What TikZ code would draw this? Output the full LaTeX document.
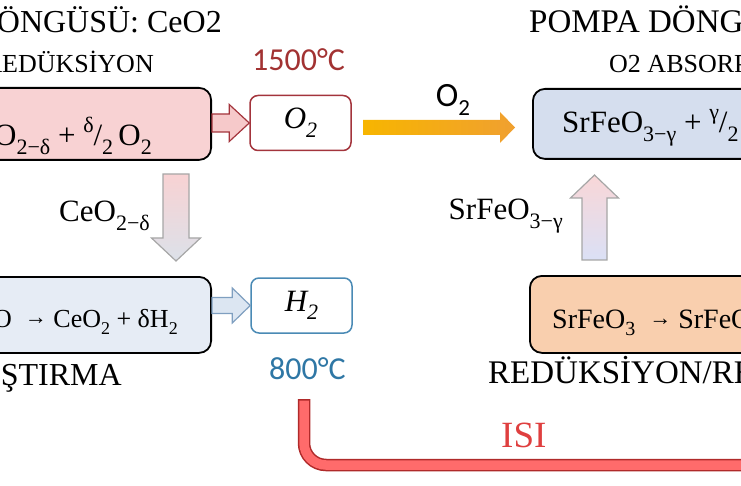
\documentclass[tikz,border=0pt]{standalone}
\usepackage{fontspec}
\setmainfont{Liberation Serif}
\newfontfamily\calib{Carlito}
\usetikzlibrary{calc}
\definecolor{pinkfill}{HTML}{F8D2D3}
\definecolor{darkred}{HTML}{A3343C}
\definecolor{arrpink}{HTML}{F6C9CA}
\definecolor{bluefill}{HTML}{E6ECF5}
\definecolor{steel}{HTML}{4A8AB5}
\definecolor{arrblue}{HTML}{DCE6F2}
\definecolor{arrblueb}{HTML}{7F9FC0}
\definecolor{absfill}{HTML}{D5DEEE}
\definecolor{peach}{HTML}{F9CFAE}
\definecolor{pipefill}{HTML}{FF6B6B}
\definecolor{pipeedge}{HTML}{B02A2A}
\definecolor{isired}{HTML}{DF3F3F}
\definecolor{hotred}{HTML}{A23232}
\definecolor{coolblue}{HTML}{2F77A5}
\definecolor{orA}{HTML}{F7B500}
\definecolor{orB}{HTML}{F0A030}
\def\mysubsize{22}
\newcommand\mysub[1]{\raisebox{-0.28em}{\fontsize{\mysubsize}{\mysubsize}\selectfont #1}}
\newcommand\mysup[1]{\raisebox{0.42em}{\fontsize{\mysubsize}{\mysubsize}\selectfont #1}}
\newcommand\myarr{\raisebox{3pt}{\fontsize{22}{24}\selectfont →}}
\newcommand\myblockarrow[6]{%
  \coordinate (hb) at ($(#3)!#6!(#2)$);
  \path[#1] ($(#2)!#4!90:(#3)$) -- ($(hb)!#4!90:(#3)$) -- ($(hb)!#5!90:(#3)$)
    -- (#3) -- ($(hb)!#5!-90:(#3)$) -- ($(hb)!#4!-90:(#3)$) -- ($(#2)!#4!-90:(#3)$) -- cycle;}
\begin{document}
\begin{tikzpicture}[x=1pt,y=-1pt,
  bigbox/.style={draw=black, line width=1.8pt, rounded corners=12pt, inner sep=0},
  smallbox/.style={fill=white, line width=1.5pt, rounded corners=8pt, inner sep=0, minimum width=101pt, minimum height=55pt, font=\itshape\def\mysubsize{22}\fontsize{31}{36}\selectfont},
  ttl/.style={inner sep=0, font=\fontsize{33}{38}\selectfont},
  subttl/.style={inner sep=0, font=\fontsize{26}{31}\selectfont},
  temp/.style={inner sep=0, font=\calib\fontsize{32}{36}\selectfont},
  frm/.style={inner sep=0, font=\def\mysubsize{22}\fontsize{31}{34}\selectfont},
  frmsmall/.style={inner sep=0, font=\def\mysubsize{18}\fontsize{26}{30}\selectfont},
  frmmid/.style={inner sep=0, font=\def\mysubsize{20}\fontsize{28}{32}\selectfont}]
\useasboundingbox (0,0) rectangle (741,486);
\clip (0,0) rectangle (741,486);
% boxes
\node[bigbox, fill=pinkfill, minimum width=330pt, minimum height=72pt, anchor=north east] (redbox) at (212,87) {};
\node[smallbox, draw=darkred] (o2box) at (300.5,123) {O\mysub{2}};
\node[bigbox, fill=bluefill, minimum width=330pt, minimum height=76pt, anchor=north east] (oxbox) at (212,276) {};
\node[smallbox, draw=steel] (h2box) at (301.5,305.5) {H\mysub{2}};
\node[bigbox, fill=absfill, minimum width=300pt, minimum height=70pt, anchor=north west] (absbox) at (532,88) {};
\node[bigbox, fill=peach, minimum width=300pt, minimum height=77pt, anchor=north west] (regbox) at (529,275) {};
% formulas
\node[frm, anchor=base east] (f1) at (152,146) {CeO\mysub{2−δ} + \mysup{δ}/\mysub{2}\,O\mysub{2}};
\node[frmsmall, anchor=base east] (f2) at (178,327) {CeO\mysub{2−δ} + δH\mysub{2}O \ \myarr\ CeO\mysub{2} + δH\mysub{2}};
\node[frm, anchor=base west] (f3) at (562,133) {SrFeO\mysub{3−γ} + \mysup{γ}/\mysub{2}\,O\mysub{2}};
\node[frmmid, anchor=base west] (f4) at (552,328) {SrFeO\mysub{3} \ \myarr\ SrFeO\mysub{3−γ}};
% titles
\node[ttl, font=\fontsize{32}{38}\selectfont, anchor=base east] (t1) at (222,33) {DÖNGÜSÜ: CeO2};
\node[subttl, anchor=base east] (t2) at (154,73) {REDÜKSİYON};
\node[ttl, anchor=base west] (t4) at (529,33) {POMPA DÖNGÜSÜ};
\node[subttl, anchor=base west] (t5) at (609,73) {O2 ABSORPSİYONU};
\node[ttl, font=\fontsize{32}{38}\selectfont, anchor=base east] (t8) at (122,385) {OKSİTLEŞTIRMA};
\node[ttl, anchor=base west] (t10) at (488,383) {REDÜKSİYON/REJENERASYON};
\node[temp, text=hotred, anchor=base west] (t3) at (252,71) {1500°C};
\node[temp, text=coolblue, anchor=base west] (t9) at (269,379) {800°C};
\node[inner sep=0, font=\calib\fontsize{34}{38}\selectfont, anchor=base] (t6) at (453,107) {O{\raisebox{-0.25em}{\fontsize{23}{26}\selectfont 2}}};
\node[frm, anchor=base east] (t7) at (150,222) {CeO\mysub{2−δ}};
\node[frm, anchor=base east] (t12) at (563,220) {SrFeO\mysub{3−γ}};
\node[inner sep=0, font=\fontsize{37}{42}\selectfont, text=isired, anchor=base west] (t11) at (501,447) {ISI};
% arrows
\myblockarrow{fill=arrpink, draw=darkred, line width=1.2pt}{redbox.east |- o2box.west}{o2box.west}{9pt}{18.5pt}{20pt}
\myblockarrow{fill=arrblue, draw=arrblueb, line width=1.2pt}{oxbox.east |- h2box.west}{h2box.west}{8pt}{17.5pt}{18pt}
\coordinate (dtop) at (176,174);
\coordinate (dtip) at (176,261);
\myblockarrow{shade, top color=pinkfill, bottom color=bluefill!90!gray, draw=gray!70, line width=1.2pt}{dtop}{dtip}{13pt}{24.5pt}{23pt}
\coordinate (ubot) at (594.5,260);
\coordinate (utip) at (594.5,175);
\myblockarrow{shade, top color=pinkfill!90!white, bottom color=bluefill!95!blue, draw=gray!70, line width=1.2pt}{ubot}{utip}{12.5pt}{24pt}{23pt}
\coordinate (ostart) at (363,127.5);
\coordinate (otip) at (515,127.5);
\myblockarrow{shade, left color=orA, right color=orB}{ostart}{otip}{7.5pt}{15.5pt}{15pt}
% heat pipe
\coordinate (pstart) at (304,399);
\coordinate (pend) at (760,465);
\draw[line width=12.5pt, draw=pipeedge, rounded corners=22pt] (pstart) -- (pstart |- pend) -- (pend);
\draw[line width=9.5pt, draw=pipefill, rounded corners=22pt] ($(pstart)+(0,1.5)$) -- (pstart |- pend) -- (pend);
\end{tikzpicture}
\end{document}
